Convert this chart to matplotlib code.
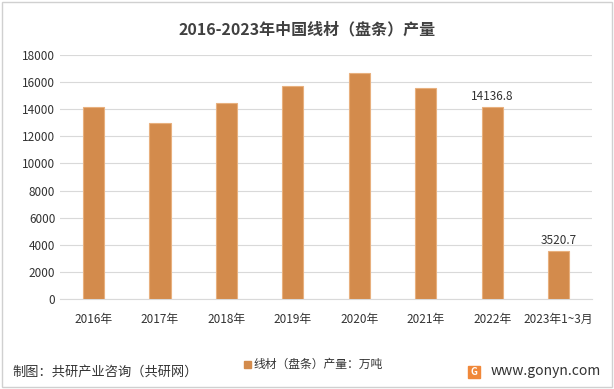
import matplotlib.pyplot as plt
from matplotlib.patches import Rectangle

plt.rcParams['font.family'] = ['Noto Sans CJK SC', 'DejaVu Sans']

years = ['2016年', '2017年', '2018年', '2019年', '2020年', '2021年', '2022年', '2023年1~3月']
output = [14170, 12960, 14430, 15720, 16660, 15560, 14136.8, 3520.7]
labels = {6: '14136.8', 7: '3520.7'}

bar_color = '#D38B4C'
text_color = '#333333'

fig = plt.figure(figsize=(6.14, 3.89), dpi=100)
ax = fig.add_axes([0.098, 0.231, 0.866, 0.628])

x = range(len(years))
ax.bar(x, output, width=0.32, color=bar_color, edgecolor='#E8B07E', linewidth=0.8, zorder=3)
for i, t in labels.items():
    ax.text(i, output[i] + 350, t, ha='center', va='bottom', fontsize=8.5, color=text_color)

ax.set_ylim(0, 18000)
ax.set_xlim(-0.5, len(years) - 0.5)
ax.set_yticks(range(0, 18001, 2000))
ax.set_xticks(list(x))
ax.set_xticklabels(years)
ax.yaxis.grid(True, color='#D9D9D9', linewidth=0.8, zorder=0)
for s in ['top', 'right', 'left']:
    ax.spines[s].set_visible(False)
ax.spines['bottom'].set_color('#D9D9D9')
ax.tick_params(axis='both', length=0, labelsize=8.5, colors=text_color)
ax.tick_params(axis='x', pad=10)

fig.text(0.5, 0.925, '2016-2023年中国线材（盘条）产量', ha='center', va='center',
         fontsize=11.5, fontweight='bold', color='#404040')

# legend
fig.patches.append(Rectangle((0.397, 0.055), 0.011, 0.018, transform=fig.transFigure,
                             color=bar_color, figure=fig))
fig.text(0.413, 0.063, '线材（盘条）产量：万吨', ha='left', va='center', fontsize=8.5, color=text_color)

fig.text(0.02, 0.043, '制图：共研产业咨询（共研网）', ha='left', va='center', fontsize=9.5, color='#333333')
fig.patches.append(Rectangle((0.762, 0.028), 0.02, 0.032, transform=fig.transFigure,
                             color='#F0883A', figure=fig))
fig.text(0.772, 0.044, 'G', ha='center', va='center', fontsize=7, color='white', fontweight='bold')
fig.text(0.978, 0.046, 'www.gonyn.com', ha='right', va='center', fontsize=10, color='#333333')

# outer border
fig.patches.append(Rectangle((0.004, 0.005), 0.992, 0.99, transform=fig.transFigure,
                             fill=False, edgecolor='#D0D0D0', linewidth=1, figure=fig))

fig.savefig('out.png', dpi=100)
